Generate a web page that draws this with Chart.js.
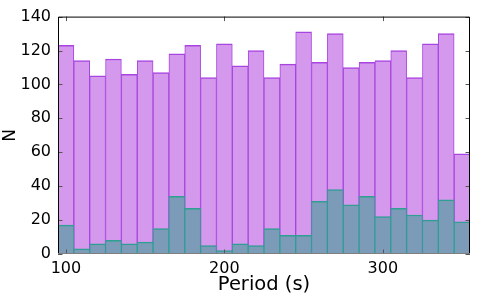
<!DOCTYPE html>
<html>
<head>
<meta charset="utf-8">
<script src="https://cdn.jsdelivr.net/npm/chart.js@4/dist/chart.umd.min.js"></script>
<style>
  html, body { margin: 0; padding: 0; background: #fff; }
  #wrap { width: 491px; height: 294px; }
</style>
</head>
<body>
<div id="wrap"><canvas id="c" width="491" height="294"></canvas></div>
<script>
// Bin centres (Period, s)
const binCenters = [100,110,120,130,140,150,160,170,180,190,200,210,220,230,240,250,260,270,280,290,300,310,320,330,340,350];
// Totals (purple)
const totalCounts = [123,114,105,115,106,114,107,118,123,104,124,111,120,104,112,131,113,130,110,113,114,120,104,124,130,59];
// Subset (teal)
const subsetCounts = [17,3,6,8,6,7,15,34,27,5,2,6,5,15,11,11,31,38,29,34,22,27,23,20,32,19];
const xTicks = [100,200,300];
const yTicks = [0,20,40,60,80,100,120,140];
const xRange = [95,355];
const yRange = [0,140];

const FONT = 'DejaVu Sans';

const framePlugin = {
  id: 'frame',
  afterDatasetsDraw(chart) {
    const ctx = chart.ctx;
    const a = chart.chartArea;
    const xs = chart.scales.x, ys = chart.scales.y;
    ctx.save();
    // ticks (inward, all sides)
    ctx.strokeStyle = '#555';
    ctx.lineWidth = 1;
    const L = 4.5;
    ctx.beginPath();
    xTicks.forEach(v => {
      const px = Math.round(xs.getPixelForValue(v)) + 0.5;
      ctx.moveTo(px, a.bottom); ctx.lineTo(px, a.bottom - L);
      ctx.moveTo(px, a.top); ctx.lineTo(px, a.top + L);
    });
    yTicks.forEach(v => {
      const py = Math.round(ys.getPixelForValue(v)) + 0.5;
      ctx.moveTo(a.left, py); ctx.lineTo(a.left + L, py);
      ctx.moveTo(a.right, py); ctx.lineTo(a.right - L, py);
    });
    ctx.stroke();
    // frame top/right/left
    ctx.strokeStyle = '#000';
    ctx.beginPath();
    ctx.moveTo(a.left + 0.5, a.bottom);
    ctx.lineTo(a.left + 0.5, a.top + 0.5);
    ctx.lineTo(a.right - 0.5, a.top + 0.5);
    ctx.lineTo(a.right - 0.5, a.bottom);
    ctx.stroke();
    ctx.strokeStyle = '#7f7f7f';
    ctx.beginPath();
    ctx.moveTo(a.left, a.bottom - 0.5);
    ctx.lineTo(a.right, a.bottom - 0.5);
    ctx.stroke();
    ctx.restore();
  }
};

new Chart(document.getElementById('c'), {
  type: 'bar',
  data: {
    datasets: [
      {
        label: 'subset',
        data: binCenters.map((x, i) => ({x: x, y: subsetCounts[i]})),
        backgroundColor: '#7b9bb8',
        borderColor: '#2f9e93',
        borderWidth: {top: 1.5, left: 1, right: 1, bottom: 0},
        borderSkipped: false,
        order: 0,
        barPercentage: 1,
        categoryPercentage: 1
      },
      {
        label: 'all',
        data: binCenters.map((x, i) => ({x: x, y: totalCounts[i]})),
        backgroundColor: '#d498ec',
        borderColor: '#a845e0',
        borderWidth: {top: 1.5, left: 1, right: 1, bottom: 0},
        borderSkipped: false,
        order: 1,
        barPercentage: 1,
        categoryPercentage: 1
      }
    ]
  },
  options: {
    responsive: false,
    animation: false,
    grouped: false,
    layout: { padding: { top: 14, right: 21, left: 0, bottom: 0 } },
    plugins: { legend: { display: false }, tooltip: { enabled: false } },
    scales: {
      x: {
        type: 'linear',
        min: xRange[0], max: xRange[1],
        offset: false,
        afterBuildTicks: s => { s.ticks = xTicks.map(v => ({value: v})); },
        afterFit: s => { s.height = 40; },
        grid: { display: false, drawTicks: false },
        border: { display: false },
        ticks: { color: '#000', font: { family: FONT, size: 16 }, padding: 5, maxRotation: 0 },
        title: { display: true, text: 'Period (s)', color: '#000', font: { family: FONT, size: 19.5 }, padding: { top: 0, bottom: -3 } }
      },
      y: {
        min: yRange[0], max: yRange[1],
        afterBuildTicks: s => { s.ticks = yTicks.map(v => ({value: v})); },
        afterFit: s => { s.width = 58; },
        grid: { display: false, drawTicks: false },
        border: { display: false },
        ticks: { color: '#000', font: { family: FONT, size: 16 }, padding: 7 },
        title: { display: true, text: 'N', color: '#000', font: { family: FONT, size: 17 }, padding: { top: 0, bottom: 0 } }
      }
    }
  },
  plugins: [framePlugin]
});
</script>
</body>
</html>
